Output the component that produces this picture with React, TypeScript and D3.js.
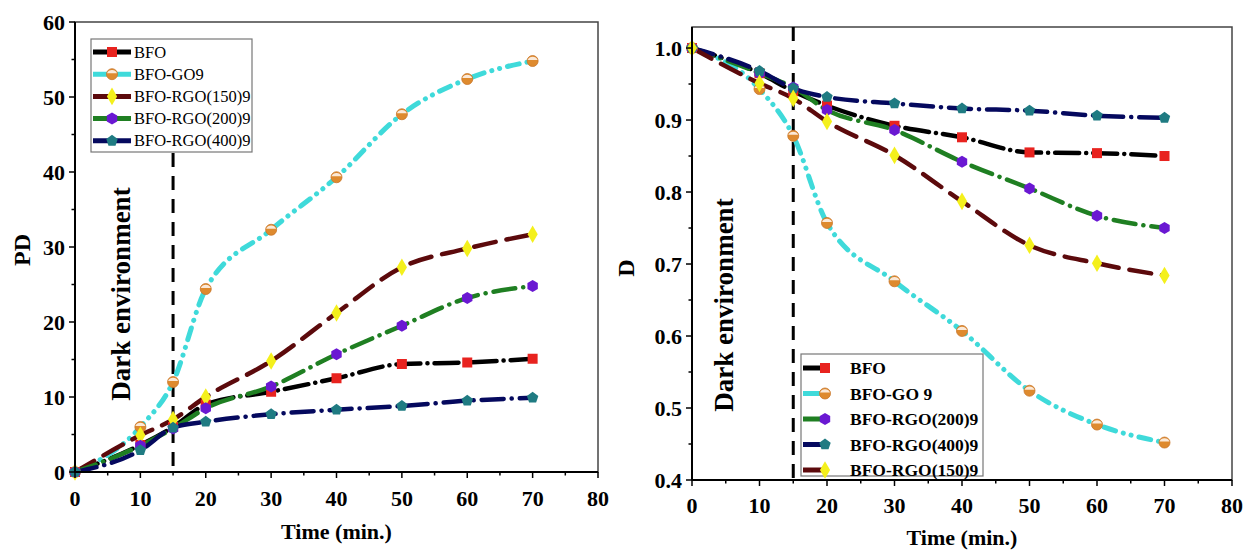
import React from "react";
import * as d3 from "d3";

const times = [0, 10, 15, 20, 30, 40, 50, 60, 70];

// Left panel (PD)
const pdBFO = [0, 3.6, 6.0, 9.0, 10.7, 12.5, 14.4, 14.6, 15.1];
const pdGO9 = [0, 6.0, 12.0, 24.4, 32.3, 39.3, 47.7, 52.4, 54.8];
const pdRGO150 = [0, 4.9, 7.0, 10.0, 14.8, 21.2, 27.3, 29.8, 31.7];
const pdRGO200 = [0, 3.5, 5.8, 8.5, 11.4, 15.7, 19.5, 23.2, 24.8];
const pdRGO400 = [0, 2.9, 5.9, 6.7, 7.7, 8.3, 8.8, 9.5, 9.9];

// Right panel (D)
const dBFO = [1.0, 0.965, 0.94, 0.92, 0.892, 0.876, 0.855, 0.854, 0.85];
const dGO9 = [1.0, 0.943, 0.878, 0.757, 0.676, 0.607, 0.524, 0.477, 0.452];
const dRGO200 = [1.0, 0.965, 0.945, 0.914, 0.886, 0.842, 0.805, 0.767, 0.75];
const dRGO400 = [1.0, 0.968, 0.944, 0.932, 0.923, 0.916, 0.913, 0.906, 0.903];
const dRGO150 = [1.0, 0.951, 0.93, 0.898, 0.851, 0.787, 0.726, 0.701, 0.684];

const leftLegend = ["BFO", "BFO-GO9", "BFO-RGO(150)9", "BFO-RGO(200)9", "BFO-RGO(400)9"];
const rightLegend = ["BFO", "BFO-GO 9", "BFO-RGO(200)9", "BFO-RGO(400)9", "BFO-RGO(150)9"];

const xTicks = [0, 10, 20, 30, 40, 50, 60, 70, 80];
const pdTicks = [0, 10, 20, 30, 40, 50, 60];
const dTicks = [0.4, 0.5, 0.6, 0.7, 0.8, 0.9, 1.0];

type Style = {
  key: string;
  color: string;
  dash: string;
  width: number;
  marker: string;
  mfill: string;
};

const styles: Record<string, Style> = {
  BFO: { key: "BFO", color: "#000000", dash: "24 7 0.1 7", width: 4.5, marker: "square", mfill: "#e8231f" },
  GO9: { key: "GO9", color: "#3fdada", dash: "12 8 0.1 8 0.1 8", width: 5, marker: "half", mfill: "#de8a2e" },
  R150: { key: "R150", color: "#5c0a0c", dash: "22 11", width: 4.5, marker: "diamond", mfill: "#f4f01c" },
  R200: { key: "R200", color: "#1f7f22", dash: "22 8 0.1 8", width: 4.5, marker: "hexagon", mfill: "#6a18d2" },
  R400: { key: "R400", color: "#05095e", dash: "22 8 0.1 8", width: 4.5, marker: "pentagon", mfill: "#1f7b82" },
};

const FONT = "'Liberation Serif', 'Times New Roman', serif";
const TICK_FS = 22;

function polygon(n: number, r: number, rot: number) {
  const pts: string[] = [];
  for (let i = 0; i < n; i++) {
    const a = rot + (i * 2 * Math.PI) / n;
    pts.push(`${(r * Math.cos(a)).toFixed(2)},${(r * Math.sin(a)).toFixed(2)}`);
  }
  return "M" + pts.join("L") + "Z";
}

function Marker({ x, y, s }: { x: number; y: number; s: Style }) {
  const t = `translate(${x},${y})`;
  if (s.marker === "square")
    return <rect x={x - 5} y={y - 5} width={10} height={10} fill={s.mfill} />;
  if (s.marker === "half")
    return (
      <g transform={t}>
        <circle r={5.5} fill={s.mfill} stroke="#c9762a" strokeWidth={0.8} />
        <path d="M-5,-1 A5.5,5.5 0 0 1 5,-1 Z" fill="#fbe9d8" />
      </g>
    );
  if (s.marker === "diamond")
    return <path transform={t} d={d3.symbol(d3.symbolDiamond, 90)()!} fill={s.mfill} />;
  if (s.marker === "hexagon")
    return <path transform={t} d={polygon(6, 6, Math.PI / 2)} fill={s.mfill} />;
  return <path transform={t} d={polygon(5, 6, -Math.PI / 2)} fill={s.mfill} />;
}

type Panel = {
  x0: number;
  x1: number;
  y0: number;
  y1: number;
  yDomain: [number, number];
  yTicks: number[];
  yMinor: number[];
  yFmt: (v: number) => string;
};

function Chart({
  p,
  series,
  yLabel,
  yLabelX,
  yLabelY,
  xLabelY,
  xTickY,
  dashTop,
  darkX,
  darkY,
}: {
  p: Panel;
  series: { s: Style; vals: number[] }[];
  yLabel: string;
  yLabelX: number;
  yLabelY: number;
  xLabelY: number;
  xTickY: number;
  dashTop: number;
  darkX: number;
  darkY: number;
}) {
  const x = d3.scaleLinear().domain([0, 80]).range([p.x0, p.x1]);
  const y = d3.scaleLinear().domain(p.yDomain).range([p.y1, p.y0]);
  const line = d3
    .line<[number, number]>()
    .x((d) => x(d[0]))
    .y((d) => y(d[1]))
    .curve(d3.curveMonotoneX);
  const xMinor = d3.range(5, 80, 10);
  return (
    <g>
      {/* frame */}
      <rect x={p.x0} y={p.y0} width={p.x1 - p.x0} height={p.y1 - p.y0} fill="none" stroke="#444" strokeWidth={1.5} />
      {/* dashed separator */}
      <line x1={x(15)} x2={x(15)} y1={dashTop} y2={p.y1} stroke="#000" strokeWidth={3} strokeDasharray="14 9" />
      <text
        transform={`translate(${darkX},${darkY}) rotate(-90)`}
        textAnchor="middle"
        dominantBaseline="central"
        fontFamily={FONT}
        fontWeight="bold"
        fontSize={27}
      >
        Dark environment
      </text>
      {/* lines */}
      {series.map(({ s, vals }) => (
        <path
          key={s.key}
          d={line(times.map((t, i) => [t, vals[i]] as [number, number]))!}
          fill="none"
          stroke={s.color}
          strokeWidth={s.width}
          strokeDasharray={s.dash}
          strokeLinecap="round"
        />
      ))}
      {series.map(({ s, vals }) => (
        <g key={s.key + "m"}>
          {times.map((t, i) => (
            <Marker key={i} x={x(t)} y={y(vals[i])} s={s} />
          ))}
        </g>
      ))}
      {/* axes */}
      <line x1={p.x0} x2={p.x1} y1={p.y1} y2={p.y1} stroke="#000" strokeWidth={2} />
      <line x1={p.x0} x2={p.x0} y1={p.y0} y2={p.y1} stroke="#000" strokeWidth={2} />
      {xTicks.map((t) => (
        <g key={"xt" + t}>
          <line x1={x(t)} x2={x(t)} y1={p.y1} y2={p.y1 + 6} stroke="#000" strokeWidth={1.5} />
          <text x={x(t)} y={xTickY} textAnchor="middle" fontFamily={FONT} fontWeight="bold" fontSize={TICK_FS}>
            {t}
          </text>
        </g>
      ))}
      {xMinor.map((t) => (
        <line key={"xm" + t} x1={x(t)} x2={x(t)} y1={p.y1} y2={p.y1 + 3.5} stroke="#000" strokeWidth={1.5} />
      ))}
      {p.yTicks.map((t) => (
        <g key={"yt" + t}>
          <line x1={p.x0 - 6} x2={p.x0} y1={y(t)} y2={y(t)} stroke="#000" strokeWidth={1.5} />
          <text
            x={p.x0 - 10}
            y={y(t)}
            textAnchor="end"
            dominantBaseline="central"
            fontFamily={FONT}
            fontWeight="bold"
            fontSize={TICK_FS}
          >
            {p.yFmt(t)}
          </text>
        </g>
      ))}
      {p.yMinor.map((t) => (
        <line key={"ym" + t} x1={p.x0 - 3.5} x2={p.x0} y1={y(t)} y2={y(t)} stroke="#000" strokeWidth={1.5} />
      ))}
      <text
        transform={`translate(${yLabelX},${yLabelY}) rotate(-90)`}
        textAnchor="middle"
        dominantBaseline="central"
        fontFamily={FONT}
        fontWeight="bold"
        fontSize={24}
      >
        {yLabel}
      </text>
      <text x={(p.x0 + p.x1) / 2} y={xLabelY} textAnchor="middle" fontFamily={FONT} fontWeight="bold" fontSize={22}>
        Time (min.)
      </text>
    </g>
  );
}

function Legend({
  x,
  y,
  w,
  h,
  rows,
  labels,
  rowH,
  first,
  lineX0,
  lineX1,
  markX,
  textX,
  bold,
  fontSize,
}: {
  x: number;
  y: number;
  w: number;
  h: number;
  rows: Style[];
  labels: string[];
  rowH: number;
  first: number;
  lineX0: number;
  lineX1: number;
  markX: number;
  textX: number;
  bold: boolean;
  fontSize: number;
}) {
  return (
    <g>
      <rect x={x} y={y} width={w} height={h} fill="#fff" stroke="#777" strokeWidth={1.2} />
      {rows.map((s, i) => {
        const cy = first + i * rowH;
        return (
          <g key={i}>
            <line x1={lineX0} x2={lineX1} y1={cy} y2={cy} stroke={s.color} strokeWidth={5} />
            <Marker x={markX} y={cy} s={s} />
            <text
              x={textX}
              y={cy}
              dominantBaseline="central"
              fontFamily={FONT}
              fontWeight={bold ? "bold" : "normal"}
              fontSize={fontSize}
            >
              {labels[i]}
            </text>
          </g>
        );
      })}
    </g>
  );
}

export default function App() {
  const left: Panel = {
    x0: 75,
    x1: 598,
    y0: 22,
    y1: 472,
    yDomain: [0, 60],
    yTicks: pdTicks,
    yMinor: d3.range(5, 60, 10),
    yFmt: (v) => String(v),
  };
  const right: Panel = {
    x0: 692,
    x1: 1232,
    y0: 27,
    y1: 480,
    yDomain: [0.4, 1.0292],
    yTicks: dTicks,
    yMinor: d3.range(0.45, 1.0, 0.1),
    yFmt: (v) => v.toFixed(1),
  };
  const leftSeries = [
    { s: styles.BFO, vals: pdBFO },
    { s: styles.GO9, vals: pdGO9 },
    { s: styles.R150, vals: pdRGO150 },
    { s: styles.R200, vals: pdRGO200 },
    { s: styles.R400, vals: pdRGO400 },
  ];
  const rightSeries = [
    { s: styles.BFO, vals: dBFO },
    { s: styles.GO9, vals: dGO9 },
    { s: styles.R200, vals: dRGO200 },
    { s: styles.R400, vals: dRGO400 },
    { s: styles.R150, vals: dRGO150 },
  ];
  return (
    <svg
      width={1245}
      height={552}
      style={{ position: "absolute", left: 0, top: 0, background: "#fff" }}
    >
      <rect width={1245} height={552} fill="#fff" />
      <Chart
        p={left}
        series={leftSeries}
        yLabel="PD"
        yLabelX={22}
        yLabelY={250}
        xLabelY={539}
        xTickY={506}
        dashTop={153}
        darkX={121}
        darkY={294}
      />
      <Legend
        x={91}
        y={39}
        w={161}
        h={113}
        rows={[styles.BFO, styles.GO9, styles.R150, styles.R200, styles.R400]}
        labels={leftLegend}
        rowH={22.2}
        first={52}
        lineX0={93}
        lineX1={131}
        markX={112}
        textX={134}
        bold={false}
        fontSize={16.5}
      />
      <Chart
        p={right}
        series={rightSeries}
        yLabel="D"
        yLabelX={626}
        yLabelY={268}
        xLabelY={545}
        xTickY={513}
        dashTop={27}
        darkX={724}
        darkY={305}
      />
      <Legend
        x={801}
        y={354}
        w={182}
        h={122}
        rows={[styles.BFO, styles.GO9, styles.R200, styles.R400, styles.R150]}
        labels={rightLegend}
        rowH={25.5}
        first={368}
        lineX0={803}
        lineX1={822}
        markX={825}
        textX={850}
        bold={true}
        fontSize={17.5}
      />
    </svg>
  );
}
